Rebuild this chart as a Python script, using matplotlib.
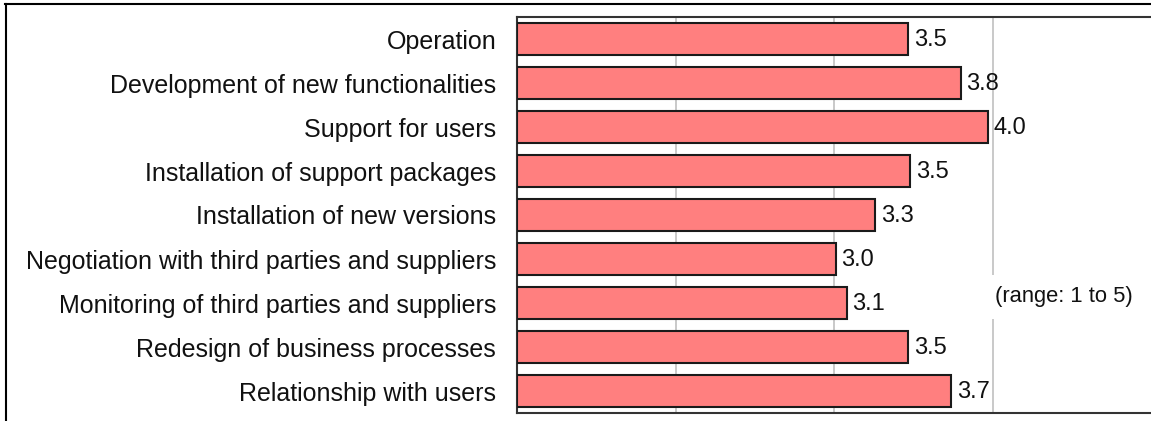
import numpy as np
import matplotlib
matplotlib.use("Agg")
import matplotlib.pyplot as plt
from matplotlib.lines import Line2D

plt.rcParams['font.family'] = ['Liberation Sans', 'DejaVu Sans']

categories = [
    "Operation",
    "Development of new functionalities",
    "Support for users",
    "Installation of support packages",
    "Installation of new versions",
    "Negotiation with third parties and suppliers",
    "Monitoring of third parties and suppliers",
    "Redesign of business processes",
    "Relationship with users",
]
# bar lengths, labels as printed
values = [3.47, 3.80, 3.97, 3.48, 3.26, 3.01, 3.08, 3.47, 3.74]
value_labels = ["3.5", "3.8", "4.0", "3.5", "3.3", "3.0", "3.1", "3.5", "3.7"]
range_note = "(range: 1 to 5)"

W, H = 1151, 421
fig = plt.figure(figsize=(W / 100, H / 100), dpi=100)

# axes box in pixels: left 517, top 17, bottom 413, right at image edge
ax = fig.add_axes([517 / W, 1 - 413 / H, 1 - 517 / W, (413 - 17) / H])

y = np.arange(len(categories))
ax.barh(y, np.array(values) - 1, left=1, height=0.72,
        color='#ff7f7f', edgecolor='#1a1a1a', linewidth=1.5, zorder=3)

for yi, v, lab in zip(y, values, value_labels):
    ax.text(v + 0.035, yi + 0.03, lab, va='center', ha='left', fontsize=17,
            color='#111111', zorder=4)

ax.set_xlim(1, 5)
ax.set_ylim(len(categories) - 0.5, -0.5)
ax.set_xticks([2, 3, 4])
ax.set_xticklabels([])
ax.tick_params(axis='x', length=0)
ax.tick_params(axis='y', length=0, pad=15, labelsize=18)
ax.set_yticks(y)
ax.set_yticklabels(categories, color='#111111')
ax.grid(axis='x', color='#c0c0c0', linewidth=1.2, zorder=0)

for s in ['top', 'bottom', 'left']:
    ax.spines[s].set_color('#333333')
    ax.spines[s].set_linewidth(1.5)
ax.spines['right'].set_visible(False)

ax.text(4.45, 5.86, range_note, ha='center', va='center', fontsize=15.8,
        color='#111111', zorder=5,
        bbox=dict(facecolor='white', edgecolor='none', pad=8))

# outer frame of the picture
fig.add_artist(Line2D([5 / W, 1], [1 - 4 / H, 1 - 4 / H], color='black',
                      linewidth=1.5, transform=fig.transFigure))
fig.add_artist(Line2D([6 / W, 6 / W], [0, 1 - 4 / H], color='black',
                      linewidth=1.5, transform=fig.transFigure))

fig.savefig("out.png", dpi=100)
